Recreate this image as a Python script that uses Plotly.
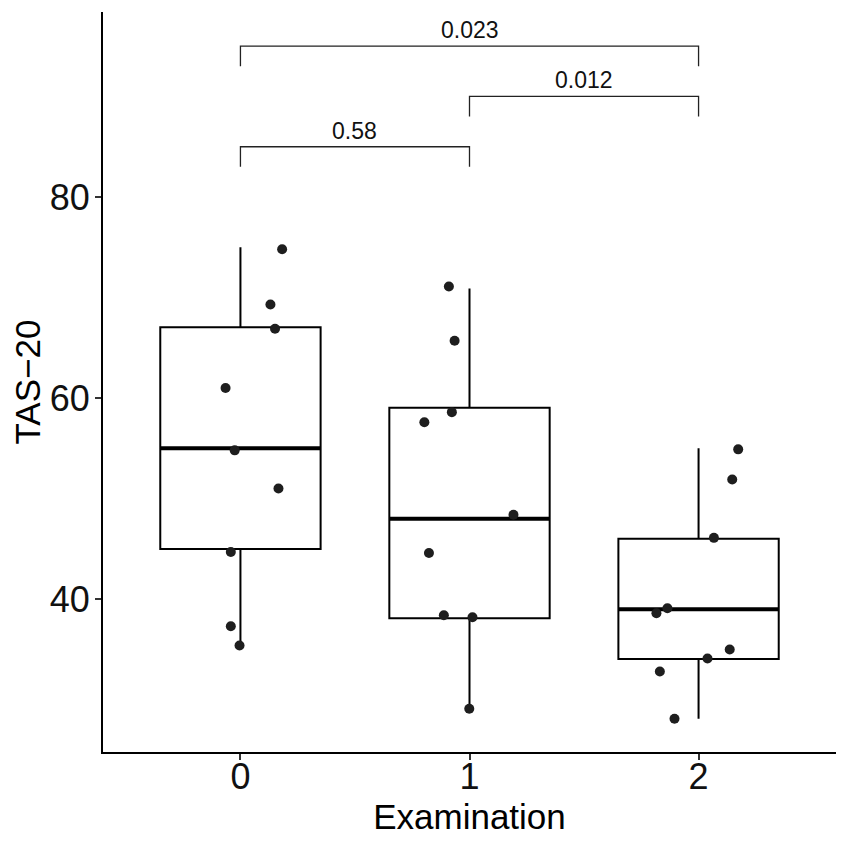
import plotly.graph_objects as go

# TAS-20 scores per examination
groups = [0, 1, 2]
q1 = [45.0, 38.1, 34.05]
median = [55.0, 48.0, 39.0]
q3 = [67.05, 59.05, 46.0]
lower = [35.0, 29.1, 28.1]
upper = [75.0, 70.9, 55.0]

pts_group = [0] * 9 + [1] * 9 + [2] * 9
pts_value = [74.8, 69.3, 66.9, 61.0, 54.8, 51.0, 44.7, 37.3, 35.4,
             71.1, 65.7, 58.6, 57.6, 48.4, 44.6, 38.4, 38.2, 29.1,
             54.9, 51.9, 46.1, 39.1, 38.6, 35.0, 34.1, 32.8, 28.1]
pts_jitter = [0.182, 0.131, 0.151, -0.065, -0.025, 0.166, -0.042, -0.042, -0.004,
              -0.090, -0.065, -0.077, -0.197, 0.192, -0.177, -0.112, 0.013, -0.001,
              0.173, 0.147, 0.067, -0.136, -0.184, 0.136, 0.039, -0.169, -0.105]

# pairwise comparisons
cmp_from = [0, 1, 0]
cmp_to = [1, 2, 2]
cmp_level = [85, 90, 95]
cmp_label = ["0.58", "0.012", "0.023"]

FONT = "Liberation Sans, Arial, sans-serif"
box_w = 0.7
tip = 2

fig = go.Figure()

fig.add_trace(go.Box(
    x=groups, q1=q1, median=median, q3=q3,
    lowerfence=lower, upperfence=upper,
    width=box_w, whiskerwidth=0, boxpoints=False,
    fillcolor="white", line=dict(color="black", width=2),
    showlegend=False, hoverinfo="skip",
))

# thicker median lines like ggplot
for g, m in zip(groups, median):
    fig.add_trace(go.Scatter(
        x=[g - box_w / 2, g + box_w / 2], y=[m, m], mode="lines",
        line=dict(color="black", width=4), showlegend=False, hoverinfo="skip",
    ))

fig.add_trace(go.Scatter(
    x=[g + j for g, j in zip(pts_group, pts_jitter)], y=pts_value,
    mode="markers", marker=dict(color="#1e1e1e", size=10),
    showlegend=False,
))

for a, b, lv, lab in zip(cmp_from, cmp_to, cmp_level, cmp_label):
    fig.add_trace(go.Scatter(
        x=[a, a, b, b], y=[lv - tip, lv, lv, lv - tip], mode="lines",
        line=dict(color="#222", width=1.3), showlegend=False, hoverinfo="skip",
    ))
    fig.add_annotation(x=(a + b) / 2, y=lv, text=lab, showarrow=False,
                       yanchor="bottom", yshift=1,
                       font=dict(family=FONT, size=23, color="#111"))

fig.update_layout(
    width=850, height=850,
    margin=dict(l=95, r=22, t=4, b=106),
    paper_bgcolor="white", plot_bgcolor="white",
    font=dict(family=FONT, color="black"),
    xaxis=dict(
        range=[-0.6, 2.6], tickvals=groups, ticktext=[str(g) for g in groups],
        showline=True, linecolor="black", linewidth=2, showgrid=False, zeroline=False,
        ticks="outside", ticklen=6, tickwidth=1.5, tickcolor="#333",
        tickfont=dict(size=36, color="#111"), automargin=False,
        ticklabelstandoff=-14,
        title=dict(text="Examination", font=dict(size=35), standoff=6),
    ),
    yaxis=dict(
        range=[24.8, 98.4], tickvals=[40, 60, 80],
        showline=True, linecolor="black", linewidth=2, showgrid=False, zeroline=False,
        ticks="outside", ticklen=6, tickwidth=1.5, tickcolor="#333",
        tickfont=dict(size=36, color="#111"), automargin=False,
        ticklabelstandoff=-2,
        title=dict(text="TAS−20", font=dict(size=35), standoff=8),
    ),
)

fig.write_html("out.html")
